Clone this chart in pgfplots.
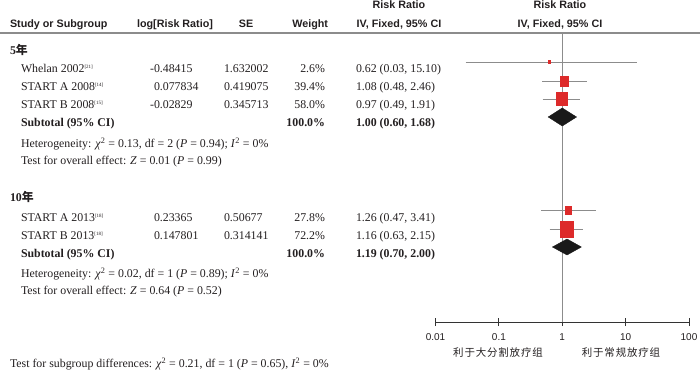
\documentclass[border=0pt]{standalone}
\usepackage{pgfplots}
\pgfplotsset{compat=1.18}
\usepackage{fontspec}
\setmainfont{Liberation Serif}
\newfontfamily\hd{Liberation Sans}
\newfontfamily\cjk{Noto Sans CJK SC}
\newfontfamily\cjkl[LetterSpace=8]{Noto Sans CJK SC}
\definecolor{rr}{RGB}{221,42,42}
\definecolor{ln}{RGB}{140,140,140}
\definecolor{tx}{RGB}{35,31,32}
\newcommand{\cit}[1]{\textsuperscript{\fontsize{5}{5}\selectfont[#1]}}
\begin{document}
\begin{tikzpicture}[x=1bp,y=1bp,
  bt/.style={inner sep=0pt, outer sep=0pt, text height=10bp, text depth=1bp, text=tx, font=\fontsize{11.9}{13}\selectfont, anchor=west},
  hdr/.style={inner sep=0pt, outer sep=0pt, text height=8.5bp, text depth=1.5bp, text=tx, font=\hd\bfseries\fontsize{10.8}{12}\selectfont}]
\useasboundingbox (0,0) rectangle (700,371);
\begin{axis}[
  at={(435.5bp,49bp)}, anchor=south west,
  width=253.5bp, height=289bp, scale only axis,
  xmode=log, xmin=0.01, xmax=100, ymin=49, ymax=338,
  axis x line*=bottom, axis y line=none,
  x axis line style={-},
  xtick={0.01,0.1,1,10,100}, xticklabels={0.01,0.1,1,10,100},
  xminorticks=false,
  major tick length=8bp, tick align=center,
  xticklabel style={font=\hd\fontsize{10}{12}\selectfont, text=tx, yshift=-4bp},
  clip=false,
  axis line style={black!80, line width=0.8bp},
  tick style={black!80, line width=0.8bp},
]
% reference line
\addplot[ln, line width=1.5bp] coordinates {(1,49) (1,338)};
% 5 year
\addplot[ln, line width=0.8bp] coordinates {(0.03,309) (15.10,309)};
\addplot[only marks, mark=square*, mark size=1.2bp, rr, mark options={yscale=1.3}] coordinates {(0.62,309)};
\addplot[ln, line width=0.8bp] coordinates {(0.48,290) (2.46,290)};
\addplot[only marks, mark=square*, mark size=4bp, rr, mark options={yscale=1.25}] coordinates {(1.08,290)};
\addplot[ln, line width=0.8bp] coordinates {(0.49,272) (1.91,272)};
\addplot[only marks, mark=square*, mark size=5.5bp, rr, mark options={yscale=1.18}] coordinates {(0.97,272)};
\addplot[fill=black!90, draw=black!90] coordinates {(0.60,254) (1.00,263) (1.68,254) (1.00,245)} --cycle;
% 10 year
\addplot[ln, line width=0.8bp] coordinates {(0.47,161) (3.41,161)};
\addplot[only marks, mark=square*, mark size=3bp, rr, mark options={yscale=1.3}] coordinates {(1.26,161)};
\addplot[ln, line width=0.8bp] coordinates {(0.63,142) (2.15,142)};
\addplot[only marks, mark=square*, mark size=6.5bp, rr, mark options={yscale=1.22}] coordinates {(1.16,142)};
\addplot[fill=black!90, draw=black!90] coordinates {(0.70,124) (1.19,132) (2.00,124) (1.19,116)} --cycle;
\end{axis}
% header
\draw[ln, line width=1.2bp] (0,338) -- (700,338);
\node[hdr, anchor=west] at (10,347) {Study or Subgroup};
\node[hdr] at (175,347) {log[Risk Ratio]};
\node[hdr] at (246,347) {SE};
\node[hdr, anchor=east] at (328,347) {Weight};
\node[hdr] at (399,366) {Risk Ratio};
\node[hdr] at (399,347) {IV, Fixed, 95\% CI};
\node[hdr] at (560,366) {Risk Ratio};
\node[hdr] at (560,347) {IV, Fixed, 95\% CI};
% 5 year group
\node[bt] at (10,321) {\bfseries 5{\cjk\bfseries 年}};
\node[bt] at (21,303) {Whelan 2002\cit{21}};
\node[bt] at (154,303) {\llap{-}0.48415};
\node[bt] at (224,303) {1.632002};
\node[bt, anchor=east] at (325,303) {2.6\%};
\node[bt] at (356,303) {0.62 (0.03, 15.10)};
\node[bt] at (21,285) {START A 2008\cit{14}};
\node[bt] at (154,285) {0.077834};
\node[bt] at (224,285) {0.419075};
\node[bt, anchor=east] at (325,285) {39.4\%};
\node[bt] at (356,285) {1.08 (0.48, 2.46)};
\node[bt] at (21,267) {START B 2008\cit{15}};
\node[bt] at (154,267) {\llap{-}0.02829};
\node[bt] at (224,267) {0.345713};
\node[bt, anchor=east] at (325,267) {58.0\%};
\node[bt] at (356,267) {0.97 (0.49, 1.91)};
\node[bt] at (21,249) {\bfseries Subtotal (95\% CI)};
\node[bt, anchor=east] at (325,249) {\bfseries 100.0\%};
\node[bt] at (356,249) {\bfseries 1.00 (0.60, 1.68)};
\node[bt] at (21,228) {Heterogeneity: \textit{χ}\textsuperscript{2} = 0.13, df = 2 (\textit{P} = 0.94); \textit{I}\textsuperscript{2} = 0\%};
\node[bt] at (21,211) {Test for overall effect: \textit{Z} = 0.01 (\textit{P} = 0.99)};
% 10 year group
\node[bt] at (10,174) {\bfseries 10{\cjk\bfseries 年}};
\node[bt] at (21,154) {START A 2013\cit{18}};
\node[bt] at (154,154) {0.23365};
\node[bt] at (224,154) {0.50677};
\node[bt, anchor=east] at (325,154) {27.8\%};
\node[bt] at (356,154) {1.26 (0.47, 3.41)};
\node[bt] at (21,136) {START B 2013\cit{18}};
\node[bt] at (154,136) {0.147801};
\node[bt] at (224,136) {0.314141};
\node[bt, anchor=east] at (325,136) {72.2\%};
\node[bt] at (356,136) {1.16 (0.63, 2.15)};
\node[bt] at (21,118) {\bfseries Subtotal (95\% CI)};
\node[bt, anchor=east] at (325,118) {\bfseries 100.0\%};
\node[bt] at (356,118) {\bfseries 1.19 (0.70, 2.00)};
\node[bt] at (21,98) {Heterogeneity: \textit{χ}\textsuperscript{2} = 0.02, df = 1 (\textit{P} = 0.89); \textit{I}\textsuperscript{2} = 0\%};
\node[bt] at (21,81) {Test for overall effect: \textit{Z} = 0.64 (\textit{P} = 0.52)};
\node[bt] at (10,8) {Test for subgroup differences: \textit{χ}\textsuperscript{2} = 0.21, df = 1 (\textit{P} = 0.65), \textit{I}\textsuperscript{2} = 0\%};
% favours labels
\node[inner sep=0pt, text=tx, font=\cjkl\fontsize{10.5}{12}\selectfont] at (498,18) {利于大分割放疗组};
\node[inner sep=0pt, text=tx, font=\cjkl\fontsize{10.5}{12}\selectfont] at (621,18) {利于常规放疗组};
\end{tikzpicture}
\end{document}
